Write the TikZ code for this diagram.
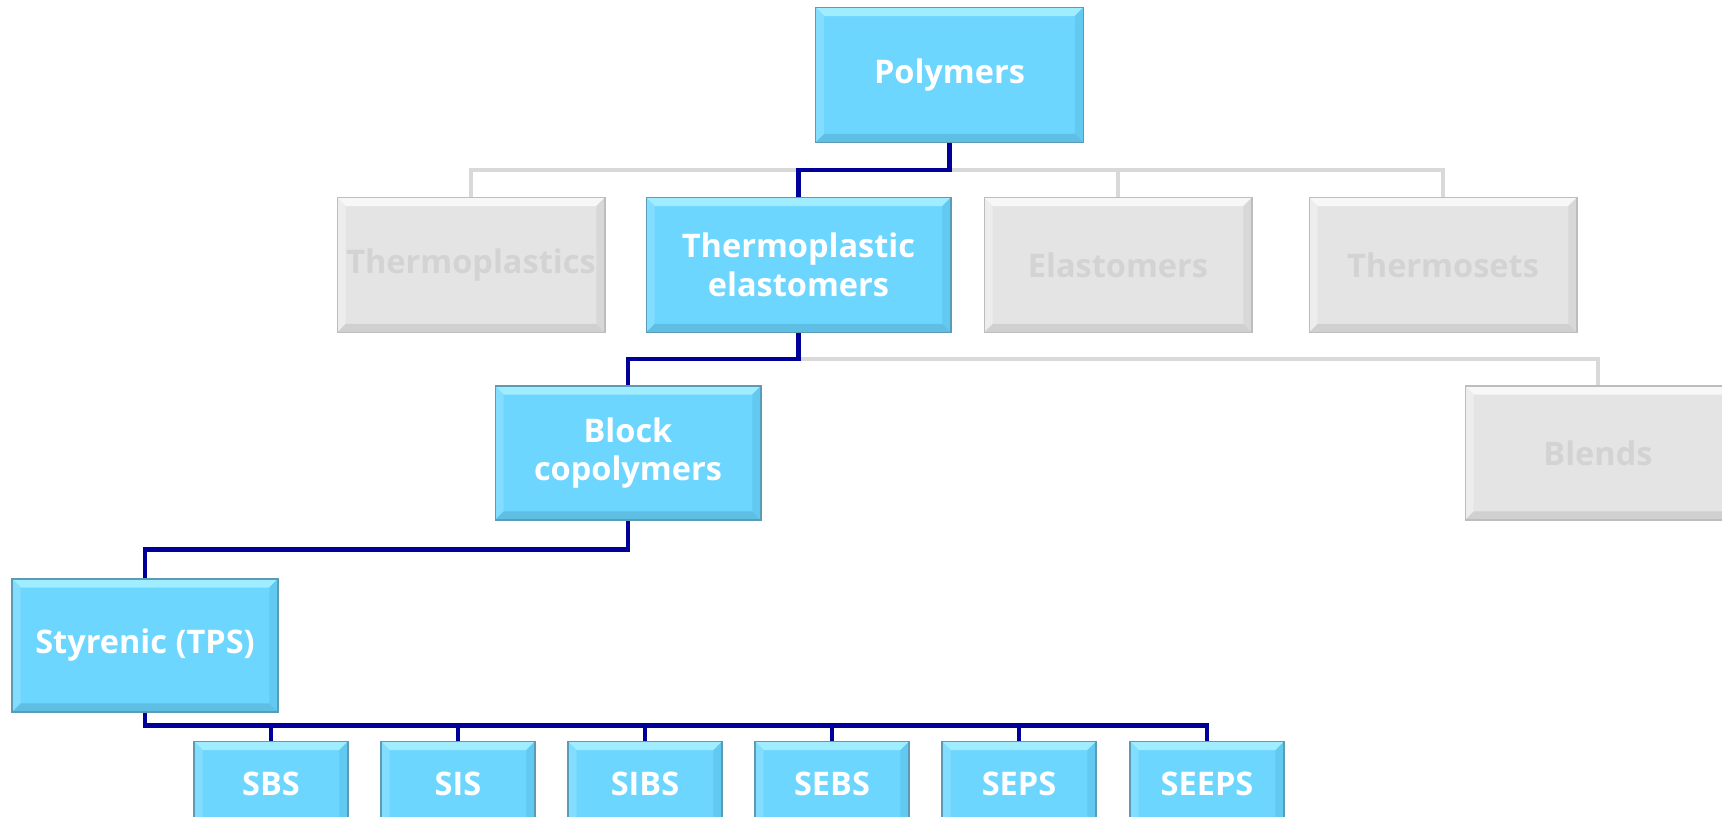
\documentclass[tikz,border=0pt]{standalone}
\usepackage{fontspec}
\setmainfont{Open Sans}
\usepackage{xcolor}
\usetikzlibrary{positioning}
\usetikzlibrary{calc}

\definecolor{boxblue}{HTML}{6DD6FE}
\definecolor{bluetop}{HTML}{A0EDFF}
\definecolor{blueleft}{HTML}{82DDFF}
\definecolor{blueright}{HTML}{62CAF0}
\definecolor{bluebottom}{HTML}{5EBEE3}
\definecolor{blueedge}{HTML}{5B9BB6}
\definecolor{linkblue}{HTML}{000099}
\definecolor{boxgrey}{HTML}{E4E4E4}
\definecolor{greytop}{HTML}{F7F7F7}
\definecolor{greyleft}{HTML}{EDEDED}
\definecolor{greyright}{HTML}{D8D8D8}
\definecolor{greybottom}{HTML}{D0D0D0}
\definecolor{greyedge}{HTML}{BDBDBD}
\definecolor{greytext}{HTML}{D3D3D3}
\definecolor{linkgrey}{HTML}{D9D9D9}

\newcommand{\bw}{0.17cm}
\newcommand{\bevelfaces}[4]{%
  \path (path picture bounding box.north west) coordinate (bnw)
        (path picture bounding box.north east) coordinate (bne)
        (path picture bounding box.south west) coordinate (bsw)
        (path picture bounding box.south east) coordinate (bse);
  \fill[#1] (bnw) -- (bne) -- ([xshift=-\bw,yshift=-\bw]bne) -- ([xshift=\bw,yshift=-\bw]bnw) -- cycle;
  \fill[#2] (bnw) -- (bsw) -- ([xshift=\bw,yshift=\bw]bsw) -- ([xshift=\bw,yshift=-\bw]bnw) -- cycle;
  \fill[#3] (bne) -- (bse) -- ([xshift=-\bw,yshift=\bw]bse) -- ([xshift=-\bw,yshift=-\bw]bne) -- cycle;
  \fill[#4] (bsw) -- (bse) -- ([xshift=-\bw,yshift=\bw]bse) -- ([xshift=\bw,yshift=\bw]bsw) -- cycle;}

\begin{document}
\begin{tikzpicture}[x=0.02cm,y=-0.02cm,
		box/.style={rectangle,align=center,inner sep=0pt,
			font=\fontsize{18.5}{22}\selectfont\bfseries},
		bluebox/.style={box,fill=boxblue,draw=blueedge,line width=0.6pt,text=white,
			path picture={\bevelfaces{bluetop}{blueleft}{blueright}{bluebottom}}},
		greybox/.style={box,fill=boxgrey,draw=greyedge,line width=0.6pt,text=greytext,
			path picture={\bevelfaces{greytop}{greyleft}{greyright}{greybottom}}},
		blueline/.style={draw=linkblue,line width=2.8pt},
		greyline/.style={draw=linkgrey,line width=2.8pt}]
	\useasboundingbox (0,0) rectangle (1722,817);
	\clip (0,0) rectangle (1722,817);

	% top
	\node[bluebox,minimum width=5.36cm,minimum height=2.7cm] (poly) at (949.5,75) {Polymers};

	% second level
	\node[greybox,minimum width=5.36cm,minimum height=2.7cm] (tplast) at (471,265) {Thermoplastics};
	\node[bluebox,minimum width=6.1cm,minimum height=2.7cm] (tpe) at (798.5,265) {Thermoplastic\\elastomers};
	\node[greybox,minimum width=5.36cm,minimum height=2.7cm] (elast) at (1118,265) {Elastomers};
	\node[greybox,minimum width=5.36cm,minimum height=2.7cm] (tset) at (1443,265) {Thermosets};

	% third level
	\node[bluebox,minimum width=5.32cm,minimum height=2.68cm] (block) at (628,453) {Block\\copolymers};
	\node[greybox,minimum width=5.32cm,minimum height=2.68cm] (blend) at (1598,453) {Blends};

	\node[bluebox,minimum width=5.32cm,minimum height=2.66cm] (styr) at (145,645.5) {Styrenic (TPS)};

	% bottom row
	\foreach \nm/\lbl/\xx in {sbs/SBS/271,sis/SIS/458,sibs/SIBS/645,sebs/SEBS/832,seps/SEPS/1019,seeps/SEEPS/1207}
		\node[bluebox,minimum width=3.08cm,minimum height=1.7cm] (\nm) at (\xx,784) {\lbl};

	% links
	\coordinate (j1) at ($(poly.south)+(0,27)$);
	\draw[greyline] (tplast.north) |- (j1) -| (tset.north);
	\draw[greyline] (elast.north) -- (elast.north |- j1);
	\draw[blueline] (poly.south) -- (j1) -| (tpe.north);

	\coordinate (j2) at ($(tpe.south)+(0,26)$);
	\draw[greyline] (j2) -| (blend.north);
	\draw[blueline] (tpe.south) -- (j2) -| (block.north);

	\coordinate (j3) at ($(block.south)+(0,29)$);
	\draw[blueline] (block.south) -- (j3) -| (styr.north);

	\coordinate (j4) at ($(styr.south)+(0,13)$);
	\draw[blueline] (styr.south) -- (j4) -| (seeps.north);
	\foreach \nm in {sbs,sis,sibs,sebs,seps}
		\draw[blueline] (\nm.north) -- (\nm.north |- j4);
\end{tikzpicture}
\end{document}
